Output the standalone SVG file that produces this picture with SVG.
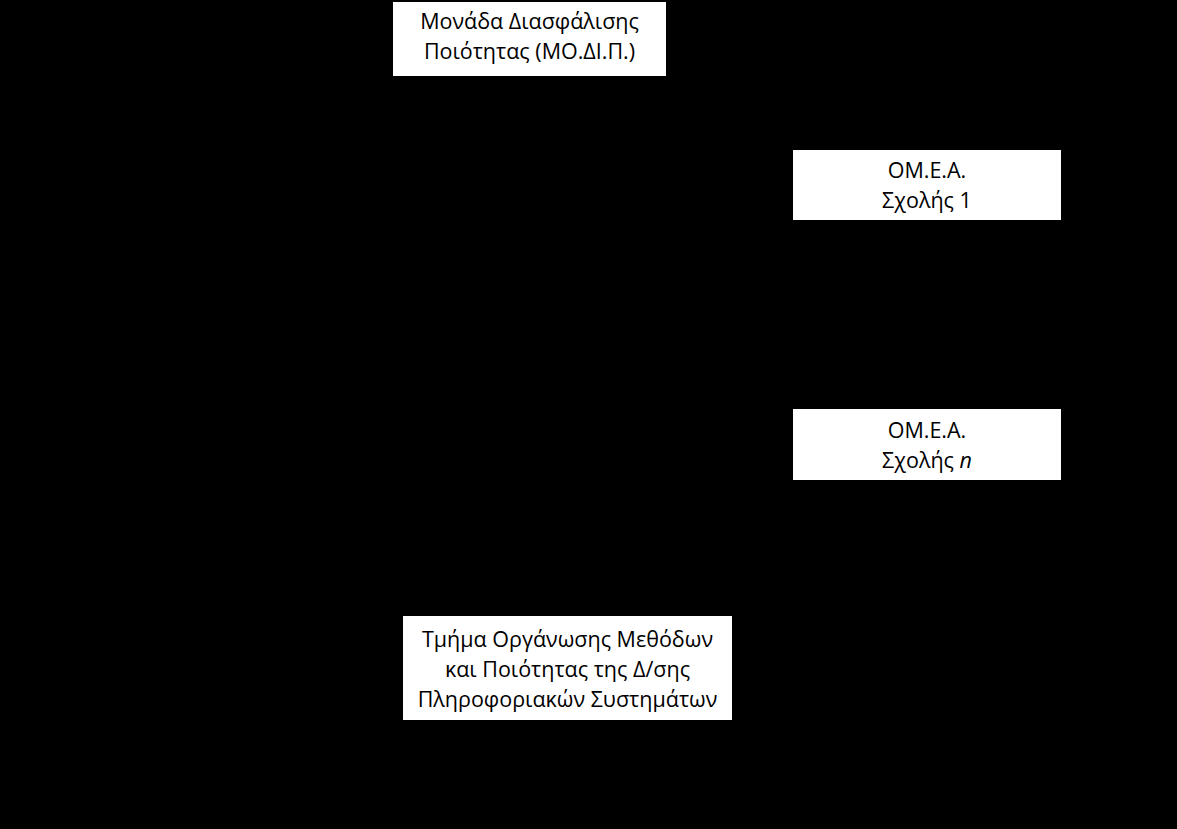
<svg xmlns="http://www.w3.org/2000/svg" width="1177" height="829" viewBox="0 0 1177 829">
<style>
.box{fill:#fff;stroke:none}
.t{font-family:"Open Sans","Liberation Sans",sans-serif;font-size:21.5px;fill:#000;text-anchor:middle}
</style>
<rect x="0" y="0" width="1177" height="829" fill="#000"/>
<g id="connectors"></g>
<g id="modip">
<rect class="box" x="393" y="2" width="273" height="74"/>
<text class="t" x="529.5" y="29">Μονάδα Διασφάλισης</text>
<text class="t" x="529.5" y="59">Ποιότητας (ΜΟ.ΔΙ.Π.)</text>
</g>
<g id="omea1">
<rect class="box" x="793" y="150" width="268" height="70"/>
<text class="t" x="927" y="178">ΟΜ.Ε.Α.</text>
<text class="t" x="927" y="208">Σχολής 1</text>
</g>
<g id="omean">
<rect class="box" x="793" y="409" width="268" height="71"/>
<text class="t" x="927" y="438">ΟΜ.Ε.Α.</text>
<text class="t" x="927" y="468">Σχολής <tspan font-style="italic">n</tspan></text>
</g>
<g id="tmima">
<rect class="box" x="403" y="616" width="329" height="104"/>
<text class="t" x="567.5" y="647">Τμήμα Οργάνωσης Μεθόδων</text>
<text class="t" x="567.5" y="677">και Ποιότητας της Δ/σης</text>
<text class="t" x="567.5" y="707">Πληροφοριακών Συστημάτων</text>
</g>
</svg>
